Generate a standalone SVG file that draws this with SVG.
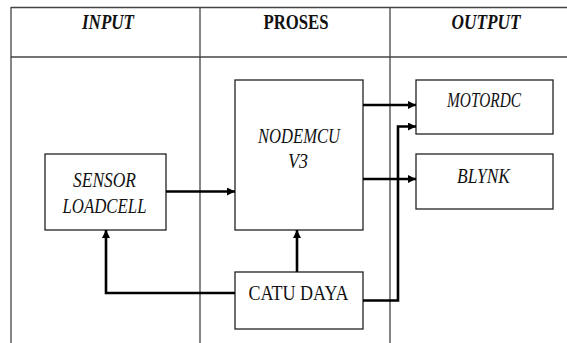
<svg xmlns="http://www.w3.org/2000/svg" width="567" height="343" viewBox="0 0 567 343">
<style>
.grid{stroke:#444;stroke-width:1.3;fill:none}
.box{fill:#fff;stroke:#222;stroke-width:1.3}
.con{fill:none;stroke:#000;stroke-width:2.6}
text{font-family:"Liberation Serif","Times New Roman",serif;fill:#111;text-anchor:middle}
.hd{font-size:21px;font-weight:bold}
.it{font-style:italic}
.lb{font-size:21px}
</style>
<defs>
<marker id="ah" viewBox="0 0 10 10" refX="10" refY="5" markerWidth="9" markerHeight="8" markerUnits="userSpaceOnUse" orient="auto">
<path d="M0,0 L10,5 L0,10 Z" fill="#000"/>
</marker>
</defs>
<rect width="567" height="343" fill="#fff"/>
<g id="table">
<line class="grid" x1="11" y1="7.5" x2="567" y2="7.5"/>
<line class="grid" x1="11" y1="57" x2="567" y2="57"/>
<line class="grid" x1="11" y1="7" x2="11" y2="343"/>
<line class="grid" x1="200" y1="7" x2="200" y2="343"/>
<line class="grid" x1="390" y1="7" x2="390" y2="343"/>
<text class="hd it" x="108" y="29" textLength="52" lengthAdjust="spacingAndGlyphs">INPUT</text>
<text class="hd" x="296" y="29" textLength="65" lengthAdjust="spacingAndGlyphs">PROSES</text>
<text class="hd it" x="486" y="29" textLength="69" lengthAdjust="spacingAndGlyphs">OUTPUT</text>
</g>
<g id="sensor">
<rect class="box" x="45" y="154" width="121" height="76"/>
<text class="lb it" x="104.5" y="187" textLength="63" lengthAdjust="spacingAndGlyphs">SENSOR</text>
<text class="lb it" x="104.5" y="213" textLength="84" lengthAdjust="spacingAndGlyphs">LOADCELL</text>
</g>
<g id="nodemcu">
<rect class="box" x="235" y="80" width="128" height="150"/>
<text class="lb it" x="299" y="143" textLength="82" lengthAdjust="spacingAndGlyphs">NODEMCU</text>
<text class="lb it" x="298" y="168" textLength="20" lengthAdjust="spacingAndGlyphs">V3</text>
</g>
<g id="catudaya">
<rect class="box" x="235" y="272" width="128" height="57"/>
<text class="lb" x="298.5" y="300" textLength="100" lengthAdjust="spacingAndGlyphs">CATU DAYA</text>
</g>
<g id="motordc">
<rect class="box" x="416" y="80" width="137" height="54"/>
<text class="lb it" x="484" y="106.5" textLength="74" lengthAdjust="spacingAndGlyphs">MOTORDC</text>
</g>
<g id="blynk">
<rect class="box" x="416" y="154" width="137" height="55"/>
<text class="lb it" x="483.5" y="182.5" textLength="53" lengthAdjust="spacingAndGlyphs">BLYNK</text>
</g>
<g id="connectors">
<line class="con" x1="166" y1="191.5" x2="235" y2="191.5" marker-end="url(#ah)"/>
<line class="con" x1="363" y1="105" x2="416" y2="105" marker-end="url(#ah)"/>
<line class="con" x1="363" y1="179" x2="416" y2="179" marker-end="url(#ah)"/>
<line class="con" x1="297" y1="272" x2="297" y2="230" marker-end="url(#ah)"/>
<polyline class="con" points="235,293 106,293 106,230" marker-end="url(#ah)"/>
<polyline class="con" points="363,300.5 398,300.5 398,126.5 416,126.5" marker-end="url(#ah)"/>
</g>
</svg>
